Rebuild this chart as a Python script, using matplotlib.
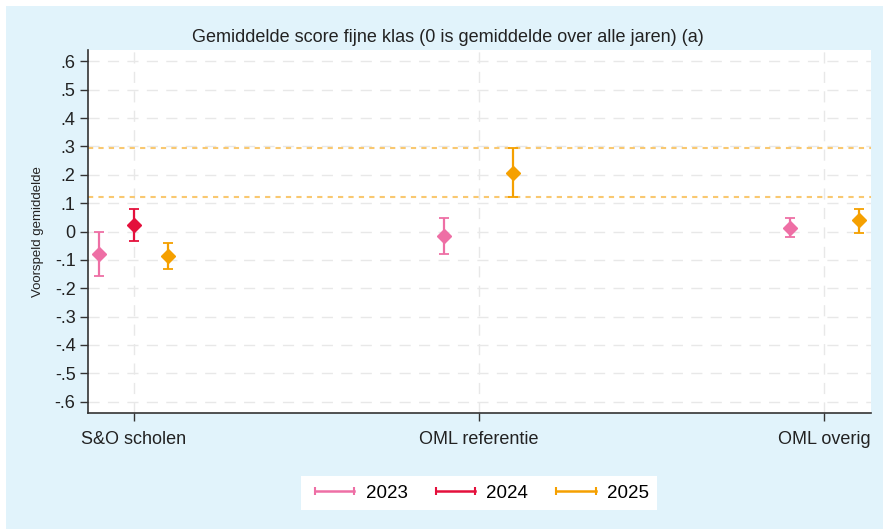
import numpy as np
import matplotlib.pyplot as plt
from matplotlib.lines import Line2D
from matplotlib.patches import Rectangle

plt.rcParams['font.family'] = ['Liberation Sans', 'DejaVu Sans']

groups = ["S&O scholen", "OML referentie", "OML overig"]
years = ["2023", "2024", "2025"]

# predicted mean and 95% CI per year (nan = no data)
est_2023 = [-0.078, -0.017, 0.011]
lo_2023 = [-0.158, -0.081, -0.021]
hi_2023 = [0.000, 0.049, 0.046]

est_2024 = [0.022, np.nan, np.nan]
lo_2024 = [-0.033, np.nan, np.nan]
hi_2024 = [0.081, np.nan, np.nan]

est_2025 = [-0.088, 0.208, 0.039]
lo_2025 = [-0.131, 0.123, -0.004]
hi_2025 = [-0.042, 0.296, 0.081]

yticks = [0.6, 0.5, 0.4, 0.3, 0.2, 0.1, 0, -0.1, -0.2, -0.3, -0.4, -0.5, -0.6]
ytick_labels = [".6", ".5", ".4", ".3", ".2", ".1", "0", "-.1", "-.2", "-.3", "-.4", "-.5", "-.6"]

colors = ["#EE6FA5", "#E4103C", "#F5A000"]
bg = "#E1F3FB"

fig = plt.figure(figsize=(8.83, 5.29), dpi=100, facecolor="white")
fig.patches.append(Rectangle((6 / 883, 0), 1, 1 - 6 / 529, transform=fig.transFigure,
                             facecolor=bg, edgecolor="none", zorder=-10))
ax = fig.add_axes([88 / 883, 1 - 413 / 529, (871 - 88) / 883, (413 - 50) / 529])
ax.set_facecolor("white")

x = np.arange(1, len(groups) + 1)
offsets = [-0.1, 0.0, 0.1]
series = [(est_2023, lo_2023, hi_2023), (est_2024, lo_2024, hi_2024), (est_2025, lo_2025, hi_2025)]

for (est, lo, hi), off, c in zip(series, offsets, colors):
    est = np.array(est)
    lo = np.array(lo)
    hi = np.array(hi)
    ok = ~np.isnan(est)
    ax.errorbar(x[ok] + off, est[ok], yerr=[est[ok] - lo[ok], hi[ok] - est[ok]],
                fmt="D", color=c, ms=7, elinewidth=1.6, capsize=3.5, capthick=1.3, zorder=3)

# reference lines at the CI of OML referentie 2025
for v in [lo_2025[1], hi_2025[1]]:
    ax.axhline(v, color="#F9C870", lw=1.5, ls=(0, (2.5, 2.5)), zorder=2)

ax.set_xlim(0.867, 3.136)
ax.set_ylim(-0.64, 0.64)
ax.set_yticks(yticks)
ax.set_yticklabels(ytick_labels, fontsize=13)
ax.set_xticks(x)
ax.set_xticklabels(groups, fontsize=13)
ax.tick_params(axis="both", direction="out", length=6, width=1, color="#333333", labelcolor="#222222")
ax.tick_params(axis="x", pad=7)
ax.tick_params(axis="y", pad=3)
ax.grid(True, color="#E8E8E8", ls=(0, (8, 6)), lw=1)
ax.set_axisbelow(True)
for s in ["top", "right"]:
    ax.spines[s].set_visible(False)
for s in ["left", "bottom"]:
    ax.spines[s].set_color("#333333")
    ax.spines[s].set_linewidth(1.2)

ax.set_ylabel("Voorspeld gemiddelde", fontsize=9.5, color="#222222", labelpad=8)
fig.text(448 / 883, 1 - 37 / 529, "Gemiddelde score fijne klas (0 is gemiddelde over alle jaren) (a)",
         ha="center", va="center", fontsize=13, color="#222222")

handles = [Line2D([0], [0], color=c, lw=1.8, marker="|", ms=6, mew=1.5) for c in colors]
leg = fig.legend(handles, years, loc="center", bbox_to_anchor=(479 / 883, 1 - 493 / 529),
                 ncol=3, fontsize=13.5, numpoints=2, handlelength=2.7, columnspacing=1.2,
                 frameon=True, fancybox=False, borderpad=0.45, handletextpad=0.3)
leg.get_frame().set_facecolor("white")
leg.get_frame().set_edgecolor("none")
leg.get_frame().set_alpha(1)

fig.savefig("out.png", dpi=100, facecolor=fig.get_facecolor())
